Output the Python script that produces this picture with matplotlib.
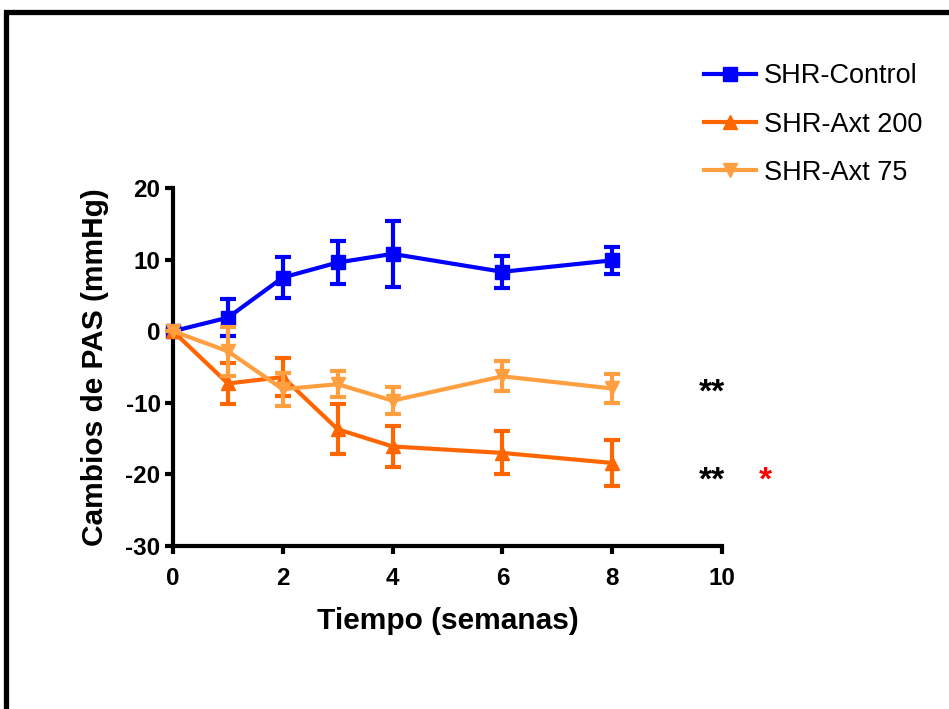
import matplotlib.pyplot as plt
import matplotlib.patches as mpatches
from matplotlib.lines import Line2D

plt.rcParams['font.family'] = ['Liberation Sans', 'DejaVu Sans']
plt.rcParams['axes.unicode_minus'] = False

weeks = [0, 1, 2, 3, 4, 6, 8]
labels = ['SHR-Control', 'SHR-Axt 200', 'SHR-Axt 75']
control = [0, 1.9, 7.5, 9.6, 10.8, 8.3, 9.9]
control_err = [0, 2.6, 2.8, 3.0, 4.6, 2.2, 1.9]
axt200 = [0, -7.3, -6.4, -13.7, -16.1, -17.0, -18.4]
axt200_err = [0, 2.8, 2.6, 3.5, 2.9, 3.0, 3.2]
axt75 = [0, -2.8, -8.1, -7.4, -9.7, -6.3, -8.0]
axt75_err = [0, 3.4, 2.3, 1.8, 1.9, 2.1, 2.0]

colors = ['#0000FF', '#FF6600', '#FF9F40']
markers = ['s', '^', 'v']

fig = plt.figure(figsize=(9.49, 7.09), dpi=100)
ax = fig.add_axes([0.1823, 0.2299, 0.5785, 0.5049])

# marco negro
fig.patches.append(mpatches.Rectangle((6 / 949, -0.2), 1.3, 1.2 - 11.5 / 709,
                                      transform=fig.transFigure, fill=False,
                                      edgecolor='black', linewidth=3.8))

series = [control, axt200, axt75]
errs = [control_err, axt200_err, axt75_err]
handles = []
for k in range(3):
    ax.errorbar(weeks, series[k], yerr=errs[k], color=colors[k], marker=markers[k],
                markersize=10, linewidth=3, elinewidth=3, capsize=6, capthick=3,
                clip_on=False, zorder=3 + k)
    handles.append(Line2D([], [], color=colors[k], marker=markers[k], markersize=10,
                          linewidth=3, label=labels[k]))

ax.set_xlim(0, 10)
ax.set_ylim(-30, 20)
ax.set_xticks([0, 2, 4, 6, 8, 10])
ax.set_yticks([-30, -20, -10, 0, 10, 20])
for s in ['top', 'right']:
    ax.spines[s].set_visible(False)
for s in ['left', 'bottom']:
    ax.spines[s].set_linewidth(3)
ax.tick_params(width=3, length=6, labelsize=17.5, direction='out')
ax.tick_params(axis='x', pad=9)
ax.tick_params(axis='y', pad=3)
for t in ax.get_xticklabels() + ax.get_yticklabels():
    t.set_fontweight('bold')
ax.set_xlabel('Tiempo (semanas)', fontsize=21.5, fontweight='bold', labelpad=12)
ax.set_ylabel('Cambios de PAS (mmHg)', fontsize=21.5, fontweight='bold', labelpad=12)

ax.text(9.57, -8.7, '**', fontsize=24, fontweight='bold', va='center', ha='left', clip_on=False)
ax.text(9.57, -20.9, '**', fontsize=24, fontweight='bold', va='center', ha='left', clip_on=False)
ax.text(10.68, -20.9, '*', fontsize=24, fontweight='bold', va='center', ha='left',
        color='red', clip_on=False)

fig.legend(handles=handles, loc='upper left', bbox_to_anchor=(680 / 949, 1 - 39 / 709),
           frameon=False, fontsize=19.5, handlelength=1.9, labelspacing=0.82,
           handletextpad=0.3)

fig.savefig('out.png', dpi=100)
